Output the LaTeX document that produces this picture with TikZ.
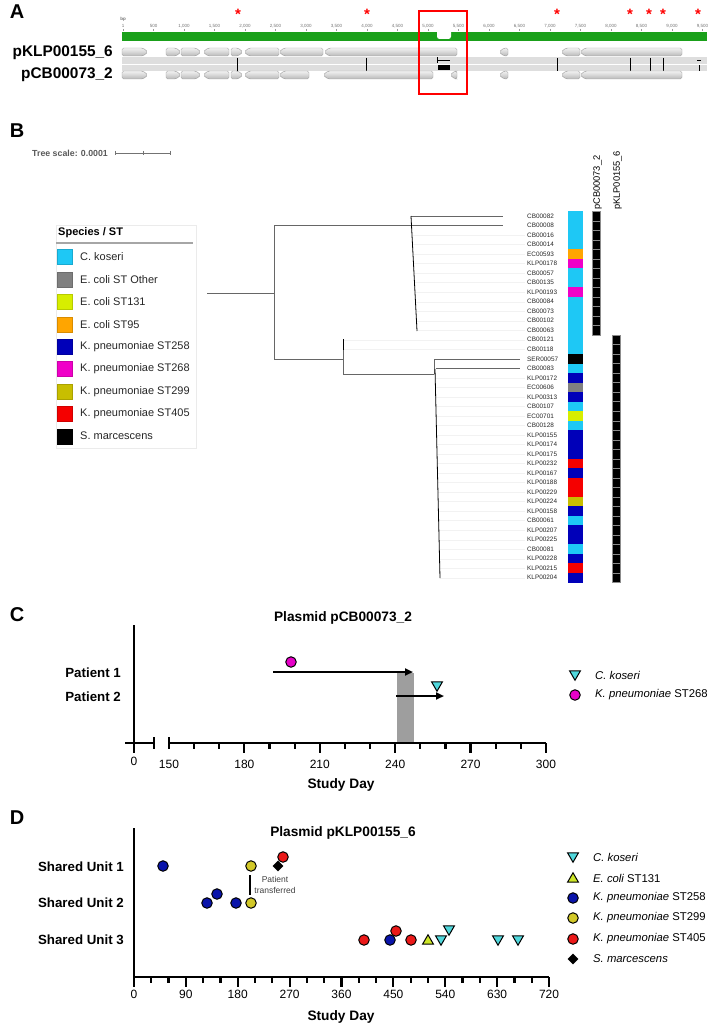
\documentclass[tikz,border=0pt]{standalone}
\usepackage{fontspec}
\setmainfont{Liberation Sans}
\usetikzlibrary{arrows.meta,shapes.geometric}
\definecolor{ck}{RGB}{30,200,245}
\definecolor{ecoth}{RGB}{128,128,128}
\definecolor{ectone}{RGB}{215,238,0}
\definecolor{ecnf}{RGB}{255,165,0}
\definecolor{kpa}{RGB}{0,0,185}
\definecolor{kpb}{RGB}{240,0,200}
\definecolor{kpc}{RGB}{200,190,0}
\definecolor{kpd}{RGB}{245,0,0}
\definecolor{cyanm}{RGB}{80,215,220}
\definecolor{magm}{RGB}{230,0,200}
\definecolor{bluem}{RGB}{10,20,170}
\definecolor{yelm}{RGB}{210,200,40}
\definecolor{redm}{RGB}{235,25,25}
\definecolor{limem}{RGB}{205,230,40}
\definecolor{greenbar}{RGB}{26,160,26}
\newcommand\fsz[1]{\fontsize{#1}{#1}\selectfont}
\newcommand\geneR[3]{\path[gene] ({#1},{#3-4}) -- ({#2-5},{#3-4}) -- ({#2},{#3}) -- ({#2-5},{#3+4}) -- ({#1},{#3+4}) -- cycle;}
\newcommand\geneL[3]{\path[gene] ({#2},{#3-4}) -- ({#1+5},{#3-4}) -- ({#1},{#3}) -- ({#1+5},{#3+4}) -- ({#2},{#3+4}) -- cycle;}
\begin{document}
\begin{tikzpicture}[x=1pt,y=-1pt,
  every node/.style={inner sep=0pt},
  panellab/.style={font=\fsz{20}\bfseries},
  gene/.style={draw=gray!75, line width=0.45pt, top color=gray!10, bottom color=gray!55, rounded corners=1.6pt},
  rulerlab/.style={font=\fsz{4.5}, text=black!55},
  star/.style={font=\fsz{15}\bfseries, text=red},
  tree/.style={draw=black!60, line width=0.7pt},
  comb/.style={draw=black, line width=0.8pt},
  leader/.style={draw=black!5, line width=0.3pt},
  leaf/.style={font=\fsz{6.4}, anchor=west, text=black!85},
  legtext/.style={font=\fsz{11}, anchor=west, text=black!85},
  axis/.style={line width=2.2pt, black},
  ticklab/.style={font=\fsz{12}},
  axtitle/.style={font=\fsz{13.7}\bfseries},
  rowlab/.style={font=\fsz{13.3}\bfseries, anchor=east},
  arr/.style={line width=2pt, -{Triangle[length=8pt,width=7pt]}},
  circ/.style={circle, draw=black, line width=1pt, minimum size=10.5pt},
  dtri/.style={regular polygon, regular polygon sides=3, shape border rotate=180, draw=black, line width=1pt, minimum size=12.5pt},
  utri/.style={regular polygon, regular polygon sides=3, draw=black, line width=1pt, minimum size=12.5pt},
  diam/.style={diamond, fill=black, minimum size=11pt},
  mlegtext/.style={font=\fsz{11.3}, anchor=west}
]
\useasboundingbox (0,0) rectangle (714,1027);

%================ Panel A =================
\node[panellab] (labA) at (17,12) {A};
\node[font=\fsz{4.5}\bfseries, text=black!55] (bp) at (123,19) {bp};
\foreach \v/\t [count=\i] in {1/1,500/500,1000/{1,000},1500/{1,500},2000/{2,000},2500/{2,500},3000/{3,000},3500/{3,500},4000/{4,000},4500/{4,500},5000/{5,000},5500/{5,500},6000/{6,000},6500/{6,500},7000/{7,000},7500/{7,500},8000/{8,000},8500/{8,500},9000/{9,000},9500/{9,500}}{
  \pgfmathsetmacro\xx{123+\v*0.061}
  \node[rulerlab] (rl\i) at (\xx,26) {\t};
  \draw[black!40, line width=0.3pt] (\xx,29) -- (\xx,31);
}
\fill[greenbar] (122,32) rectangle (707,41);
\fill[white, rounded corners=2.5pt] (437,29) rectangle (451,39);
\foreach \x [count=\i] in {238,367,557,630,649,663,698}{
  \node[star] (st\i) at (\x,14) {*};
}
\node[font=\fsz{15.4}\bfseries, anchor=east] (pk) at (113,53) {pKLP00155\_6};
\node[font=\fsz{15.4}\bfseries, anchor=east] (pc) at (113,75) {pCB00073\_2};
% alignment bands
\fill[black!13] (122,57.5) rectangle (707,64.5);
\fill[black!13] (122,65.5) rectangle (707,71);
\foreach \x in {237,366,557,630,650,663}{
  \draw[black, line width=0.6pt] (\x,58) -- (\x,71);
}
\draw[black, line width=0.6pt] (697,60.5) -- (701,60.5);
\draw[black, line width=0.6pt] (699,65.5) -- (699,71);
\draw[black, line width=0.6pt] (437,57.5) -- (437,63.5);
\draw[black, line width=0.6pt] (437,60.5) -- (450,60.5);
\fill[black] (438,65.5) rectangle (450,70.5);
% genes row 1
\geneR{122}{148}{52}
\geneR{166}{181}{52}
\geneR{181}{201}{52}
\geneL{203}{229}{52}
\geneR{231}{243}{52}
\geneL{244}{279}{52}
\geneL{279}{323}{52}
\geneL{324}{457}{52}
\geneL{499}{508}{52}
\geneL{561}{580}{52}
\geneL{580}{682}{52}
% genes row 2
\geneR{122}{148}{75}
\geneR{166}{181}{75}
\geneR{181}{201}{75}
\geneL{203}{229}{75}
\geneR{231}{243}{75}
\geneL{244}{279}{75}
\geneL{279}{309}{75}
\geneL{323}{433}{75}
\geneL{450}{457}{75}
\geneL{499}{508}{75}
\geneL{561}{580}{75}
\geneL{580}{682}{75}
\draw[red, line width=1.7pt] (419,11) rectangle (467,94);

%================ Panel B =================
\node[panellab] (labB) at (17,131) {B};
\node[font=\fsz{8.8}\bfseries, text=black!65, anchor=west] (ts) at (32,153) {Tree scale: 0.0001};
\draw[black!55, line width=0.6pt] (115,153) -- (170,153);
\foreach \x in {115,143,170}{\draw[black!55, line width=0.6pt] (\x,151) -- (\x,155);}
% legend
\draw[black!8, line width=0.5pt] (56,225) rectangle (196,448);
\node[font=\fsz{11}\bfseries, anchor=west] (legt) at (58,233) {Species / ST};
\draw[black!35, line width=1.2pt] (56,243) -- (193,243);
\foreach \t/\c [count=\i] in {C. koseri/ck, E. coli ST Other/ecoth, E. coli ST131/ectone, E. coli ST95/ecnf, K. pneumoniae ST258/kpa, K. pneumoniae ST268/kpb, K. pneumoniae ST299/kpc, K. pneumoniae ST405/kpd, S. marcescens/black}{
  \pgfmathsetmacro\yy{257+(\i-1)*22.4}
  \fill[\c, draw=\c!85!black, line width=0.4pt] (57,\yy-7.5) rectangle (72,\yy+7.5);
  \node[legtext] (lg\i) at (80,\yy) {\t};
}
% tree leaders
\foreach \i in {3,...,13}{
  \pgfmathsetmacro\yy{216+(\i-1)*9.52}
  \pgfmathsetmacro\xs{411+(\i-1)*0.5}
  \draw[leader] (\xs,\yy) -- (525,\yy);
}
\foreach \i in {14,15}{
  \pgfmathsetmacro\yy{216+(\i-1)*9.52}
  \draw[leader] (343,\yy) -- (525,\yy);
}
\foreach \i in {18,...,39}{
  \pgfmathsetmacro\yy{216+(\i-1)*9.52}
  \pgfmathsetmacro\xs{435+(\i-17)*0.23}
  \draw[leader] (\xs,\yy) -- (525,\yy);
}
% tree branches
\draw[tree] (207,293) -- (274,293);
\draw[tree] (274,225) -- (274,359);
\draw[tree] (274,225) -- (411,225);
\draw[tree] (274,359) -- (343,359);
\draw[tree] (343,340) -- (343,374);
\draw[tree] (343,374) -- (434,374);
\draw[tree] (434,359) -- (434,374);
\draw[tree] (411,216) -- (503,216);
\draw[tree] (411,225) -- (503,225);
\draw[tree] (434,359) -- (520,359);
\draw[tree] (436,368) -- (520,368);
\draw[comb] (411,216) -- (417,331);
\draw[comb] (343,339) -- (343,350);
\draw[comb] (435,369) -- (440,578);
% leaves
\foreach \lab/\c [count=\i] in {CB00082/ck,CB00008/ck,CB00016/ck,CB00014/ck,EC00593/ecnf,KLP00178/kpb,CB00057/ck,CB00135/ck,KLP00193/kpb,CB00084/ck,CB00073/ck,CB00102/ck,CB00063/ck,CB00121/ck,CB00118/ck,SER00057/black,CB00083/ck,KLP00172/kpa,EC00606/ecoth,KLP00313/kpa,CB00107/ck,EC00701/ectone,CB00128/ck,KLP00155/kpa,KLP00174/kpa,KLP00175/kpa,KLP00232/kpd,KLP00167/kpa,KLP00188/kpd,KLP00229/kpd,KLP00224/kpc,KLP00158/kpa,CB00061/ck,KLP00207/kpa,KLP00225/kpa,CB00081/ck,KLP00228/kpa,KLP00215/kpd,KLP00204/kpa}{
  \pgfmathsetmacro\yy{216+(\i-1)*9.52}
  \node[leaf] (lf\i) at (527,\yy) {\lab};
  \fill[\c] (568,\yy-4.8) rectangle (583,\yy+4.8);
}
\foreach \i in {1,...,13}{
  \pgfmathsetmacro\yy{216+(\i-1)*9.52}
  \fill[black, draw=black!45, line width=0.3pt] (592,\yy-4.76) rectangle (600,\yy+4.76);
}
\foreach \i in {14,...,39}{
  \pgfmathsetmacro\yy{216+(\i-1)*9.52}
  \fill[black, draw=black!45, line width=0.3pt] (612,\yy-4.76) rectangle (620,\yy+4.76);
}
\node[font=\fsz{9.3}, rotate=90, anchor=west] (hc) at (597.5,210) {pCB00073\_2};
\node[font=\fsz{9.3}, rotate=90, anchor=west] (hk) at (617.5,210) {pKLP00155\_6};

%================ Panel C =================
\node[panellab] (labC) at (17,615) {C};
\node[axtitle] (tc) at (343,618) {Plasmid pCB00073\_2};
\node[rowlab] (p1) at (121,673) {Patient 1};
\node[rowlab] (p2) at (121,697) {Patient 2};
\fill[black!38] (397,673) rectangle (414,743);
\draw[axis] (134,625) -- (134,743);
\draw[axis] (125,743) -- (154,743);
\draw[axis] (134,743) -- (134,753);
\draw[axis] (154,737) -- (154,749);
\draw[axis] (169,743) -- (546,743);
\draw[axis] (169,737) -- (169,749);
\foreach \d in {180,210,240,270,300}{
  \pgfmathsetmacro\xx{169+(\d-150)*2.513}
  \draw[axis] (\xx,743) -- (\xx,753);
}
\foreach \d in {160,170,190,200,220,230,250,260,280,290}{
  \pgfmathsetmacro\xx{169+(\d-150)*2.513}
  \draw[axis] (\xx,743) -- (\xx,749);
}
\node[ticklab] (c0) at (134,761) {0};
\foreach \d [count=\i] in {150,180,210,240,270,300}{
  \pgfmathsetmacro\xx{169+(\d-150)*2.513}
  \node[ticklab] (ct\i) at (\xx,764) {\d};
}
\node[axtitle] (cxl) at (341,785) {Study Day};
\coordinate (a1s) at (273,672);
\coordinate (a1e) at (413,672);
\coordinate (a2s) at (396,696);
\coordinate (a2e) at (444,696);
\draw[arr] (a1s) -- (a1e);
\draw[arr] (a2s) -- (a2e);
\node[circ, fill=magm] (cm1) at (291,662) {};
\node[dtri, fill=cyanm] (cc1) at (437,685) {};
\node[dtri, fill=cyanm] (lc1) at (575,674) {};
\node[mlegtext] (lct1) at (595,675) {\itshape C. koseri};
\node[circ, fill=magm] (lc2) at (575,695) {};
\node[mlegtext] (lct2) at (595,695) {{\itshape K. pneumoniae} ST268};

%================ Panel D =================
\node[panellab] (labD) at (17,818) {D};
\node[axtitle] (td) at (343,833) {Plasmid pKLP00155\_6};
\node[rowlab] (u1) at (124,867) {Shared Unit 1};
\node[rowlab] (u2) at (124,903) {Shared Unit 2};
\node[rowlab] (u3) at (124,940) {Shared Unit 3};
\draw[axis] (134,828) -- (134,977);
\draw[axis] (133,977) -- (549,977);
\foreach \d in {0,30,...,720}{
  \pgfmathsetmacro\xx{134+\d*0.5764}
  \draw[axis] (\xx,977) -- (\xx,983);
}
\foreach \d [count=\i] in {0,90,180,270,360,450,540,630,720}{
  \pgfmathsetmacro\xx{134+\d*0.5764}
  \draw[axis] (\xx,977) -- (\xx,987);
  \node[ticklab] (dt\i) at (\xx,994) {\d};
}
\node[axtitle] (dxl) at (341,1017) {Study Day};
% transfer
\coordinate (trA) at (250,875);
\coordinate (trB) at (250,895);
\draw[line width=2pt] (trA) -- (trB);
\node[font=\fsz{8.5}, text=black!75] (ptr1) at (275,879) {Patient};
\node[font=\fsz{8.5}, text=black!75] (ptr2) at (275,890) {transferred};
% unit 1
\node[circ, fill=bluem] (d1) at (163,866) {};
\node[circ, fill=yelm] (d2) at (251,866) {};
\node[diam] (d3) at (278,866) {};
\node[circ, fill=redm] (d4) at (283,857) {};
% unit 2
\node[circ, fill=bluem] (d5) at (207,903) {};
\node[circ, fill=bluem] (d6) at (217,894) {};
\node[circ, fill=bluem] (d7) at (236,903) {};
\node[circ, fill=yelm] (d8) at (251,903) {};
% unit 3
\node[circ, fill=redm] (d9) at (364,940) {};
\node[circ, fill=bluem] (d10) at (390,940) {};
\node[circ, fill=redm] (d11) at (396,931) {};
\node[circ, fill=redm] (d12) at (411,940) {};
\node[utri, fill=limem] (d13) at (428,941) {};
\node[dtri, fill=cyanm] (d14) at (441,939) {};
\node[dtri, fill=cyanm] (d15) at (449,929) {};
\node[dtri, fill=cyanm] (d16) at (498,939) {};
\node[dtri, fill=cyanm] (d17) at (518,939) {};
% legend D
\node[dtri, fill=cyanm] (ld1) at (573,856) {};
\node[mlegtext] (ldt1) at (593,857) {\itshape C. koseri};
\node[utri, fill=limem] (ld2) at (573,879) {};
\node[mlegtext] (ldt2) at (593,878) {{\itshape E. coli} ST131};
\node[circ, fill=bluem] (ld3) at (573,898) {};
\node[mlegtext] (ldt3) at (593,898) {{\itshape K. pneumoniae} ST258};
\node[circ, fill=yelm] (ld4) at (573,918) {};
\node[mlegtext] (ldt4) at (593,918) {{\itshape K. pneumoniae} ST299};
\node[circ, fill=redm] (ld5) at (573,939) {};
\node[mlegtext] (ldt5) at (593,939) {{\itshape K. pneumoniae} ST405};
\node[diam] (ld6) at (573,959) {};
\node[mlegtext] (ldt6) at (593,959) {\itshape S. marcescens};
\end{tikzpicture}
\end{document}
